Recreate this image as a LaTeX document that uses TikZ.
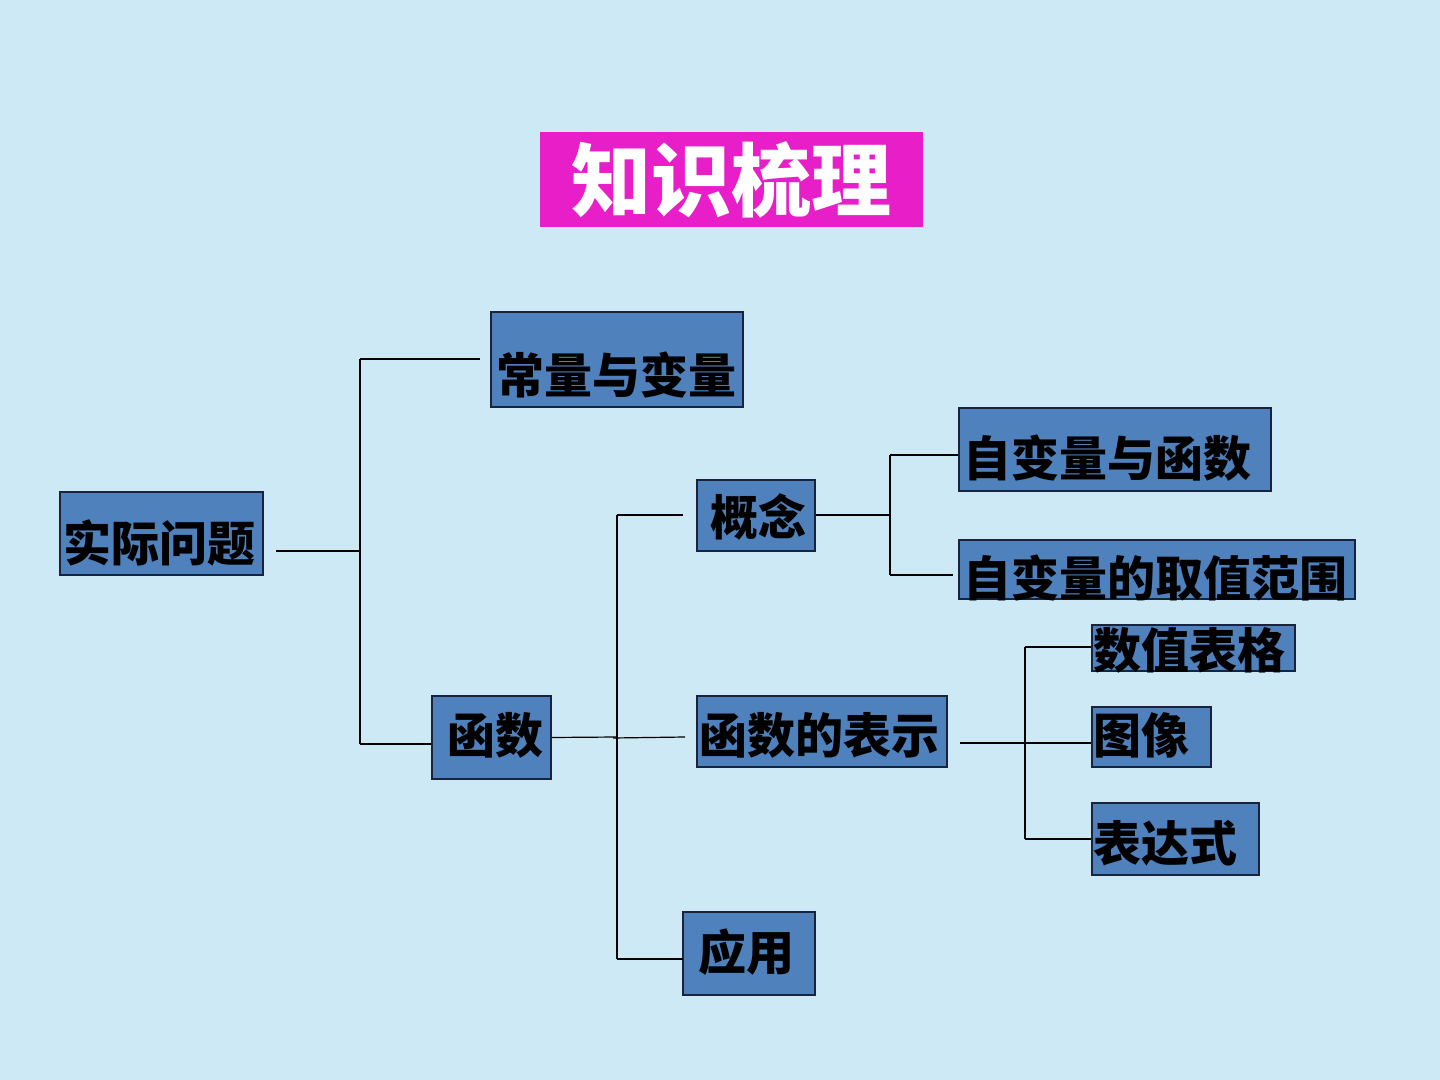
\documentclass[tikz,border=0pt]{standalone}
\usepackage{fontspec}
\newfontfamily\cjk{Noto Sans CJK SC Black}
\usetikzlibrary{calc}
\definecolor{bg}{RGB}{205,233,245}
\definecolor{boxfill}{RGB}{79,129,189}
\definecolor{boxline}{RGB}{25,35,60}
\definecolor{pink}{RGB}{232,30,200}
\begin{document}
\begin{tikzpicture}[x=0.5pt,y=-0.5pt,
  box/.style={draw=boxline,line width=0.8pt,fill=boxfill,inner sep=0pt},
  lbl/.style={anchor=west,inner sep=0pt,font=\cjk\fontsize{24pt}{24pt}\selectfont,text=black},
  conn/.style={draw=black,line width=0.6pt}]
\fill[bg] (0,0) rectangle (1440,1080);
\useasboundingbox (0,0) rectangle (1440,1080);
% title
\node[fill=pink,minimum width=191.5pt,minimum height=47.5pt,inner sep=0pt,
  font=\cjk\fontsize{40pt}{40pt}\selectfont,text=white] (title) at (731.5,179.5) {知识梳理};
% boxes
\node[box,minimum width=126pt,minimum height=47.5pt] (cl) at (617,359.5) {};
\node[box,minimum width=101.5pt,minimum height=41.5pt] (sj) at (161.5,533.5) {};
\node[box,minimum width=59pt,minimum height=35.5pt] (gn) at (756,515.5) {};
\node[box,minimum width=156pt,minimum height=41.5pt] (zh) at (1115,449.5) {};
\node[box,minimum width=198pt,minimum height=29.5pt] (zq) at (1157,569.5) {};
\node[box,minimum width=101.5pt,minimum height=23pt] (sz) at (1193.5,648) {};
\node[box,minimum width=59.5pt,minimum height=30pt] (tx) at (1151.5,737) {};
\node[box,minimum width=83.5pt,minimum height=36pt] (bd) at (1175.5,839) {};
\node[box,minimum width=59.5pt,minimum height=41.5pt] (hs) at (491.5,737.5) {};
\node[box,minimum width=125pt,minimum height=35.5pt] (hb) at (822,731.5) {};
\node[box,minimum width=66pt,minimum height=41.5pt] (yy) at (749,953.5) {};
% labels
\node[lbl] (tcl) at (496,375) {常量与变量};
\node[lbl] (tsj) at (63,543) {实际问题};
\node[lbl] (tgn) at (710,517) {概念};
\node[lbl] (tzh) at (963,458) {自变量与函数};
\node[lbl] (tzq) at (963,578) {自变量的取值范围};
\node[lbl] (tsz) at (1093,650) {数值表格};
\node[lbl] (ttx) at (1093,735) {图像};
\node[lbl] (tbd) at (1093,843) {表达式};
\node[lbl] (ths) at (447,735) {函数};
\node[lbl] (thb) at (699,735) {函数的表示};
\node[lbl] (tyy) at (698,952) {应用};
% connector points
\coordinate (a0) at (276,551);
\coordinate (a1) at (360,551);
\coordinate (a2) at (360,359);
\coordinate (a3) at (360,744);
\coordinate (a4) at (480,359);
\coordinate (b1) at (617,737);
\coordinate (b2) at (617,515);
\coordinate (b3) at (617,959);
\coordinate (b4) at (683,515);
\coordinate (b5) at (613,738);
\coordinate (b6) at (685,737);
\coordinate (b7) at (683,959);
\coordinate (c1) at (890,515);
\coordinate (c2) at (890,455);
\coordinate (c3) at (890,575);
\coordinate (c4) at (953,575);
\coordinate (d0) at (960,743);
\coordinate (d1) at (1025,743);
\coordinate (d2) at (1025,647);
\coordinate (d3) at (1025,839);
% connectors
\draw[conn,line width=1pt] (a0) -- (a1);
\draw[conn] (a2) -- (a3);
\draw[conn] (a2) -- (a4);
\draw[conn] (a3) -- (hs.west |- a3);
\draw[conn] (hs.east) -- (b1);
\draw[conn] (b2) -- (b3);
\draw[conn] (b2) -- (b4);
\draw[conn] (b5) -- (b6);
\draw[conn] (b3) -- (b7);
\draw[conn] (gn.east |- c1) -- (c1);
\draw[conn] (c2) -- (c3);
\draw[conn] (c2) -- (zh.west |- c2);
\draw[conn] (c3) -- (c4);
\draw[conn] (d0) -- (d1);
\draw[conn] (d2) -- (d3);
\draw[conn] (d2) -- (sz.west |- d2);
\draw[conn] (d1) -- (tx.west |- d1);
\draw[conn] (d3) -- (bd.west |- d3);
\end{tikzpicture}
\end{document}
